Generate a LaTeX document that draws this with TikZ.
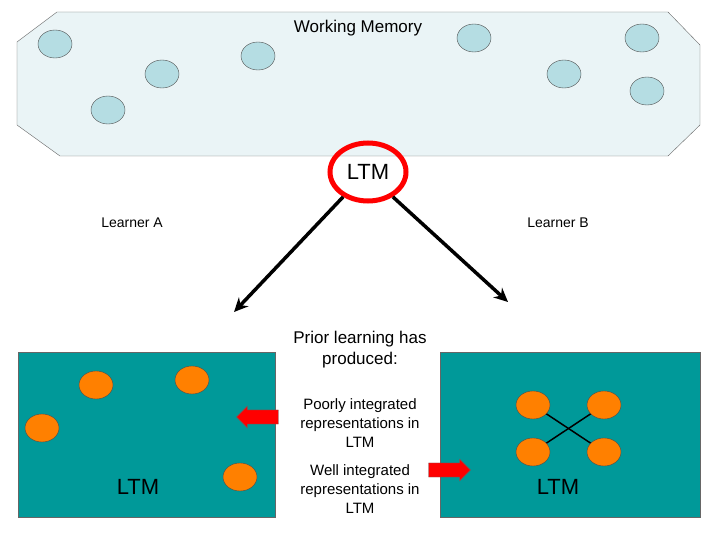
\documentclass[tikz,border=0pt]{standalone}
\usepackage{fontspec}
\setmainfont{Liberation Sans}
\usetikzlibrary{arrows.meta}
\definecolor{wmback}{HTML}{EAF4F6}
\definecolor{blob}{HTML}{B5DDE3}
\definecolor{teal}{HTML}{009999}
\definecolor{orng}{HTML}{FF8000}
\tikzset{
  chunk/.style={draw=black!70,fill=blob,ellipse,minimum width=34,minimum height=28},
  item/.style={draw=black!70,fill=orng,ellipse,minimum width=34,minimum height=28},
  note/.style={align=center,font=\fontsize{15}{19}\selectfont},
  big/.style={font=\fontsize{22}{26}\selectfont},
  redarrow/.style={draw=black!60,fill=red,single arrow,minimum height=42,minimum width=22,single arrow head extend=2pt}
}
\usetikzlibrary{shapes.arrows,shapes.geometric}
\begin{document}
\begin{tikzpicture}[x=1pt,y=-1pt]
  \useasboundingbox (0,0) rectangle (720,540);

  % working memory
  \draw[fill=wmback,draw=black!60] (17,42) -- (57,12) -- (668,12) -- (700,45) -- (700,125)
    -- (668,156) -- (60,156) -- (17,125) -- cycle;
  \node[font=\fontsize{17}{20}\selectfont] (wm) at (358,28) {Working Memory};
  \node[chunk] (c1) at (55,44) {};
  \node[chunk] (c2) at (162,74) {};
  \node[chunk] (c3) at (108,110) {};
  \node[chunk] (c4) at (258,56) {};
  \node[chunk] (c5) at (474,38) {};
  \node[chunk] (c6) at (564,74) {};
  \node[chunk] (c7) at (642,38) {};
  \node[chunk] (c8) at (647,91) {};

  % long term memory
  \node[ellipse,draw=red,line width=5pt,minimum width=76,minimum height=58,big] (ltm) at (368,172) {LTM};
  \node[font=\fontsize{14}{17}\selectfont] (la) at (132,223) {Learner A};
  \node[font=\fontsize{14}{17}\selectfont] (lb) at (558,223) {Learner B};
  \coordinate (ea) at (234,312);
  \coordinate (eb) at (508,302);
  \draw[line width=3.5pt,-{Stealth[length=14pt,width=13pt]}] (ltm.225) -- (ea);
  \draw[line width=3.5pt,-{Stealth[length=14pt,width=13pt]}] (ltm.-45) -- (eb);

  % learner A
  \fill[teal] (18,352) rectangle (275,517);
  \draw[black!60] (18,352) rectangle (275,517);
  \node[item] (a1) at (96,385) {};
  \node[item] (a2) at (192,380) {};
  \node[item] (a3) at (42,428) {};
  \node[item] (a4) at (240,477) {};
  \node[big] (lta) at (138,487) {LTM};

  % learner B
  \fill[teal] (440,352) rectangle (700,517);
  \draw[black!60] (440,352) rectangle (700,517);
  \draw[line width=1.5pt] (533,405) -- (604,452);
  \draw[line width=1.5pt] (604,405) -- (533,452);
  \node[item] (b1) at (533,405) {};
  \node[item] (b2) at (604,405) {};
  \node[item] (b3) at (533,452) {};
  \node[item] (b4) at (604,452) {};
  \node[big] (ltb) at (558,487) {LTM};

  % captions
  \node[note,font=\fontsize{17}{21}\selectfont] (prior) at (360,350) {Prior learning has\\produced:};
  \node[note] (poor) at (360,423) {Poorly integrated\\representations in\\LTM};
  \node[note] (well) at (360,489) {Well integrated\\representations in\\LTM};
  \node[redarrow,shape border rotate=180] (pa) at (261,417) {};
  \node[redarrow] (wa) at (446,470) {};
\end{tikzpicture}
\end{document}
